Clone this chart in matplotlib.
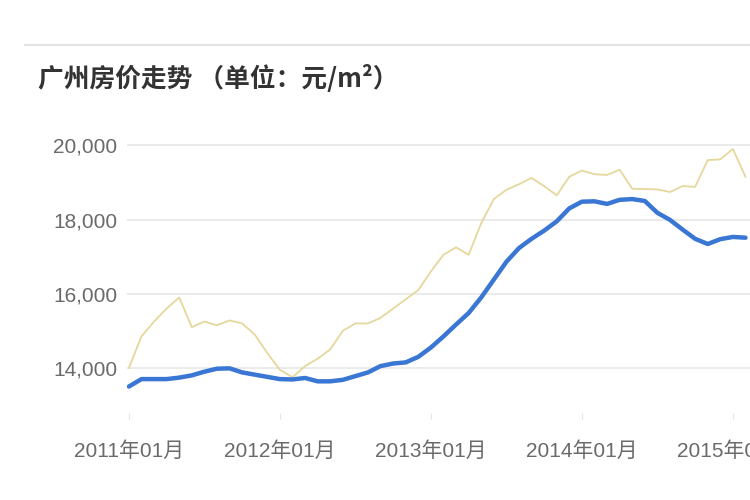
import matplotlib
matplotlib.use('Agg')
import matplotlib.pyplot as plt
import numpy as np
import pandas as pd

# monthly points, 2011-01 .. 2015-02
months = pd.date_range('2011-01-01', periods=50, freq='MS')

# thin yellow line
price_a = [14000, 14850, 15250, 15600, 15900, 15100, 15250, 15150, 15280, 15200,
           14900, 14400, 13950, 13750, 14050, 14250, 14500, 15000, 15200, 15200,
           15350, 15600, 15850, 16100, 16600, 17050, 17250, 17050, 17900, 18550,
           18800, 18950, 19120, 18900, 18650, 19150, 19320, 19220, 19200, 19340,
           18830, 18820, 18810, 18740, 18900, 18880, 19600, 19620, 19900, 19150]

# thick blue line
price_b = [13500, 13700, 13700, 13700, 13740, 13800, 13900, 13980, 13990, 13880,
           13820, 13760, 13700, 13690, 13730, 13640, 13640, 13680, 13780, 13880,
           14050, 14120, 14150, 14300, 14550, 14850, 15170, 15480, 15900, 16380,
           16860, 17230, 17480, 17700, 17950, 18300, 18480, 18490, 18420, 18530,
           18550, 18500, 18180, 17990, 17730, 17480, 17340, 17470, 17530, 17510]

yticks = [14000, 16000, 18000, 20000]

x = np.arange(len(months))
xt = [i for i, m in enumerate(months) if m.month == 1]
xt_labels = [f"{m.year}年{m.month:02d}月" for m in months if m.month == 1]

fig = plt.figure(figsize=(7.5, 5), dpi=100)
fig.patch.set_facecolor('white')

# thin rule at the top
fig.add_artist(plt.Line2D([25/750, 1.0], [1 - 45/500, 1 - 45/500],
                          color='#e2e2e2', lw=1.5))

fig.text(38/750, 1 - 79/500, "广州房价走势 （单位：元/m²）",
         family=['Noto Sans CJK SC', 'DejaVu Sans'], fontsize=18.5,
         fontweight='bold', color='#333333', va='center', ha='left')

ax = fig.add_axes([127/750, 0.175, 1 - 127/750, 0.579])
ax.plot(x, price_a, color='#e6d79c', lw=1.3, zorder=3)
ax.plot(x, price_b, color='#3a76d4', lw=3.2, zorder=4, solid_capstyle='round')

ax.set_xlim(-0.15, 49.36)
ax.set_ylim(12800, 20600)
ax.set_yticks(yticks)
ax.set_yticklabels([f"{v:,}" for v in yticks], family='Liberation Sans',
                   fontsize=15, color='#6a6a6a')
ax.set_xticks(xt)
ax.set_xticklabels(xt_labels, family=['Liberation Sans', 'Noto Sans CJK SC'],
                   fontsize=15, color='#6a6a6a')

ax.tick_params(axis='y', length=0, pad=7)
ax.tick_params(axis='x', length=4, color='#e4e4e4', pad=17)
ax.grid(axis='y', color='#e8e8e8', lw=1.2)
ax.set_axisbelow(True)
for s in ax.spines.values():
    s.set_visible(False)

fig.savefig('out.png', dpi=100)
